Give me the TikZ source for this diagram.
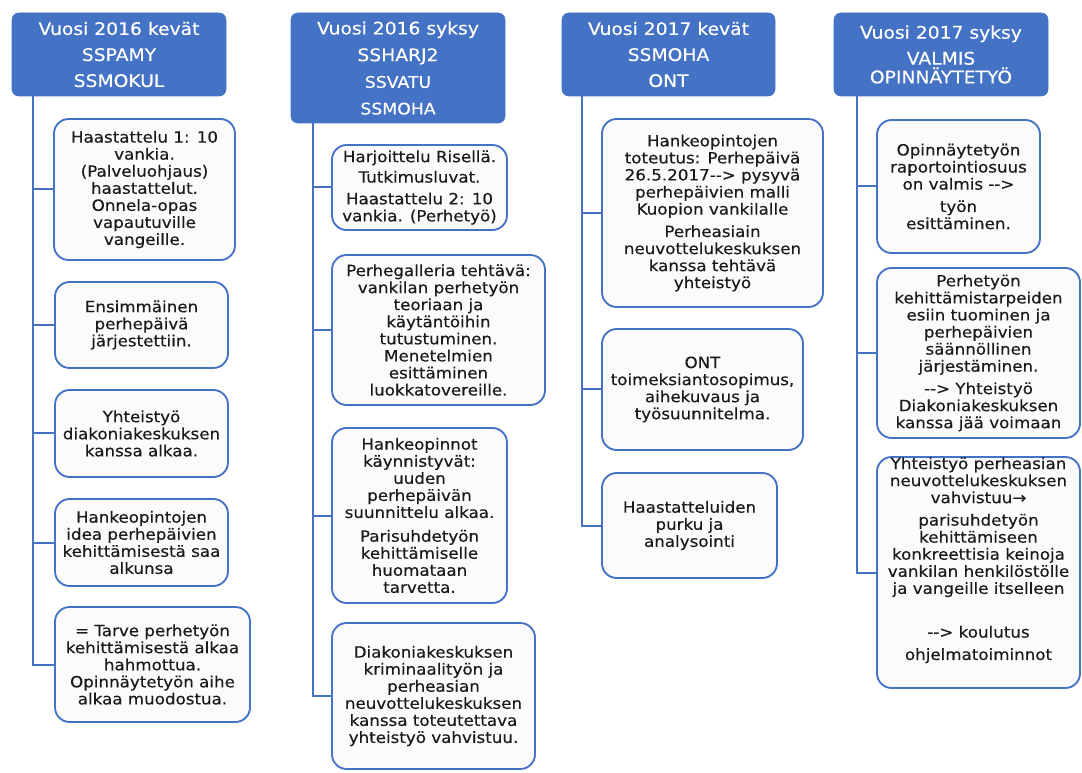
\documentclass[tikz,border=0pt]{standalone}
\usepackage{fontspec}
\setmainfont{DejaVu Sans}[FakeStretch=1.08,FakeBold=0.3]
\usepackage{tikz}
\usetikzlibrary{calc}
\definecolor{sininen}{HTML}{4472C4}
\definecolor{teksti}{HTML}{1A1A1A}
\tikzset{
    sz/.style 2 args={minimum width=#1*0.75pt,minimum height=#2*0.75pt},
    header/.style={rounded corners=5pt,fill=sininen,draw=sininen,text=white,align=center,inner sep=0pt,
      font=\fontsize{13}{19.5}\selectfont},
    card/.style={rounded corners=11pt,fill=white!98.5!black,draw=sininen,line width=1.4pt,text=teksti,align=center,inner sep=0pt,
      font=\fontsize{11.6}{12.8}\selectfont},
    runko/.style={draw=sininen,line width=1.5pt},
  }
\begin{document}
\begin{tikzpicture}[x=0.75pt,y=-0.75pt]
				  \useasboundingbox (0,0) rectangle (1082,773);
				  %OTSIKOT
				  \node[header,sz={214}{83}] (h1) at (119,54.5) {Vuosi 2016 kevät\\SSPAMY\\SSMOKUL};
				  \node[header,sz={214}{110},font=\fontsize{13}{20}\selectfont] (h2) at (398,68) {Vuosi 2016 syksy\\SSHARJ2\\{\fontsize{12}{20}\selectfont SSVATU}\\{\fontsize{12}{20}\selectfont SSMOHA}};
				  \node[header,sz={213}{83}] (h3) at (668.5,54.5) {Vuosi 2017 kevät\\SSMOHA\\ONT};
				  \node[header,sz={214}{83}] (h4) at (941,54.5) {Vuosi 2017 syksy\\VALMIS\\[-5.5pt]OPINNÄYTETYÖ};
				  %SARAKE 1
				  \node[card,sz={181}{141}] (b11) at (144.5,189.5) {Haastattelu 1: 10\\vankia.\\(Palveluohjaus)\\haastattelut.\\Onnela-opas\\vapautuville\\vangeille.};
				  \node[card,sz={173}{86}] (b12) at (141.5,325) {Ensimmäinen\\perhepäivä\\järjestettiin.};
				  \node[card,sz={173}{87}] (b13) at (141.5,433.5) {Yhteistyö\\diakoniakeskuksen\\kanssa alkaa.};
				  \node[card,sz={173}{87}] (b14) at (141.5,542.5) {Hankeopintojen\\idea perhepäivien\\kehittämisestä saa\\alkunsa};
				  \node[card,sz={195}{115}] (b15) at (152.5,664.5) {= Tarve perhetyön\\kehittämisestä alkaa\\hahmottua.\\Opinnäytetyön aihe\\alkaa muodostua.};
				  \foreach \b in {b11,b12,b13,b14,b15}
				    \draw[runko] ($(h1.south west)+(21,0)$) |- (\b.west);
				  %SARAKE 2
				  \node[card,sz={175}{85}] (b21) at (419.5,187.5) {Harjoittelu Risellä.\\[2.5pt]Tutkimusluvat.\\[3.5pt]Haastattelu 2: 10\\vankia. (Perhetyö)};
				  \node[card,sz={213}{150}] (b22) at (438.5,330) {Perhegalleria tehtävä:\\vankilan perhetyön\\teoriaan ja\\käytäntöihin\\tutustuminen.\\Menetelmien\\esittäminen\\luokkatovereille.};
				  \node[card,sz={175}{175}] (b23) at (419.5,515.5) {Hankeopinnot\\käynnistyvät:\\uuden\\perhepäivän\\suunnittelu alkaa.\\[5pt]Parisuhdetyön\\kehittämiselle\\huomataan\\tarvetta.};
				  \node[card,sz={203}{146}] (b24) at (433.5,696) {Diakoniakeskuksen\\kriminaalityön ja\\perheasian\\neuvottelukeskuksen\\kanssa toteutettava\\yhteistyö vahvistuu.};
				  \foreach \b in {b21,b22,b23,b24}
				    \draw[runko] ($(h2.south west)+(22,0)$) |- (\b.west);
				  %SARAKE 3
				  \node[card,sz={221}{188}] (b31) at (712.5,213) {Hankeopintojen\\toteutus: Perhepäivä\\26.5.2017-{}-{}> pysyvä\\perhepäivien malli\\Kuopion vankilalle\\[4pt]Perheasiain\\neuvottelukeskuksen\\kanssa tehtävä\\yhteistyö};
				  \node[card,sz={201}{121}] (b32) at (702.5,389.5) {ONT\\toimeksiantosopimus,\\aihekuvaus ja\\työsuunnitelma.};
				  \node[card,sz={175}{105}] (b33) at (689.5,525.5) {Haastatteluiden\\purku ja\\analysointi};
				  \foreach \b in {b31,b32,b33}
				    \draw[runko] ($(h3.south west)+(20,0)$) |- (\b.west);
				  %SARAKE 4
				  \node[card,sz={163}{133}] (b41) at (958.5,186.5) {Opinnäytetyön\\raportointiosuus\\on valmis -{}->\\[4pt]työn\\esittäminen.};
				  \node[card,sz={203}{170}] (b42) at (978.5,353) {Perhetyön\\kehittämistarpeiden\\esiin tuominen ja\\perhepäivien\\säännöllinen\\järjestäminen.\\[4pt]-{}-> Yhteistyö\\Diakoniakeskuksen\\kanssa jää voimaan};
				  \node[card,sz={203}{231}] (b43) at (978.5,572.5) {Yhteistyö perheasian\\neuvottelukeskuksen\\vahvistuu→\\[4pt]parisuhdetyön\\kehittämiseen\\konkreettisia keinoja\\vankilan henkilöstölle\\ja vangeille itselleen\\[20pt]-{}-> koulutus\\[4pt]ohjelmatoiminnot\\[8pt]};
				  \foreach \b in {b41,b42,b43}
				    \draw[runko] ($(h4.south west)+(23,0)$) |- (\b.west);
\end{tikzpicture}
\end{document}
